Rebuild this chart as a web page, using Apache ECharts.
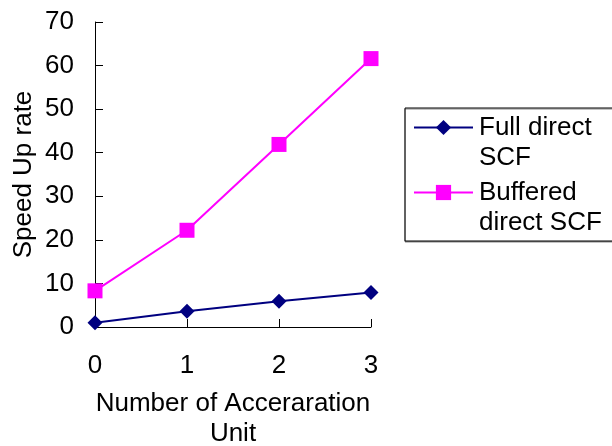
<!DOCTYPE html>
<html>
<head>
<meta charset="utf-8">
<script src="https://cdn.jsdelivr.net/npm/echarts@6/dist/echarts.min.js"></script>
<style>html,body{margin:0;padding:0;background:#fff;}#c{width:612px;height:446px;}</style>
</head>
<body>
<div id="c"></div>
<script>
const categories = ['0', '1', '2', '3'];
const fullDirect = [1.0, 3.6, 5.9, 7.9];
const bufferedDirect = [8.3, 22.2, 41.9, 61.6];
const yTicks = { min: 0, max: 70, interval: 10 };
const seriesNames = ['Full direct SCF', 'Buffered direct SCF'];
const legendFirstLines = ['Full direct', 'Buffered'];
const legendSecondLines = ['SCF', 'direct SCF'];
const xTitle = 'Number of Acceraration\nUnit';
const yTitle = 'Speed Up rate';

const FONT = 'Liberation Sans, Arial, sans-serif';
const FS = 26;
const chart = echarts.init(document.getElementById('c'), null, { renderer: 'canvas' });
chart.setOption({
  backgroundColor: '#fff',
  animation: false,
  textStyle: { fontFamily: FONT, color: '#000' },
  grid: { left: 95, right: 241, top: 22, bottom: 119, containLabel: false, outerBoundsMode: 'none' },
  xAxis: {
    type: 'category',
    data: categories,
    boundaryGap: false,
    axisLine: { lineStyle: { color: '#000', width: 1 } },
    axisTick: { inside: true, length: 8, lineStyle: { color: '#000' } },
    axisLabel: { fontSize: FS, color: '#000', margin: 26, fontFamily: FONT },
    splitLine: { show: false },
    name: xTitle,
    nameLocation: 'middle',
    nameGap: 62,
    nameTextStyle: { fontSize: FS, color: '#000', lineHeight: 30, fontFamily: FONT }
  },
  yAxis: {
    type: 'value',
    min: yTicks.min, max: yTicks.max, interval: yTicks.interval,
    axisLine: { show: true, lineStyle: { color: '#000', width: 1 } },
    axisTick: { show: true, inside: true, length: 8, lineStyle: { color: '#000' } },
    axisLabel: { fontSize: FS, color: '#000', margin: 21, fontFamily: FONT },
    splitLine: { show: false },
    name: yTitle,
    nameLocation: 'middle',
    nameGap: 58,
    nameTextStyle: { fontSize: FS, color: '#000', fontFamily: FONT }
  },
  legend: {
    orient: 'vertical',
    left: 405, top: 108,
    padding: [5, 40, 34, 8],
    itemGap: 36,
    itemWidth: 59, itemHeight: 19,
    borderColor: '#000', borderWidth: 1,
    shadowColor: '#888', shadowOffsetY: 1, shadowOffsetX: 0, shadowBlur: 0,
    backgroundColor: '#fff',
    data: seriesNames,
    formatter: function (n) { return legendFirstLines[seriesNames.indexOf(n)]; },
    textStyle: { fontSize: FS, color: '#000', lineHeight: 29, fontFamily: FONT, padding: [0, 0, 0, 1] }
  },
  graphic: [
    { type: 'text', z: 100, left: 479, top: 145, style: { text: legendSecondLines[0], fontSize: FS, fontFamily: FONT, fill: '#000' } },
    { type: 'text', z: 100, left: 479, top: 210, style: { text: legendSecondLines[1], fontSize: FS, fontFamily: FONT, fill: '#000' } }
  ],
  series: [
    {
      name: seriesNames[0], type: 'line', data: fullDirect,
      symbol: 'diamond', symbolSize: 15,
      itemStyle: { color: '#000080' },
      lineStyle: { color: '#000080', width: 2 }
    },
    {
      name: seriesNames[1], type: 'line', data: bufferedDirect,
      symbol: 'rect', symbolSize: 15,
      itemStyle: { color: '#FF00FF' },
      lineStyle: { color: '#FF00FF', width: 2 }
    }
  ]
});
</script>
</body>
</html>
